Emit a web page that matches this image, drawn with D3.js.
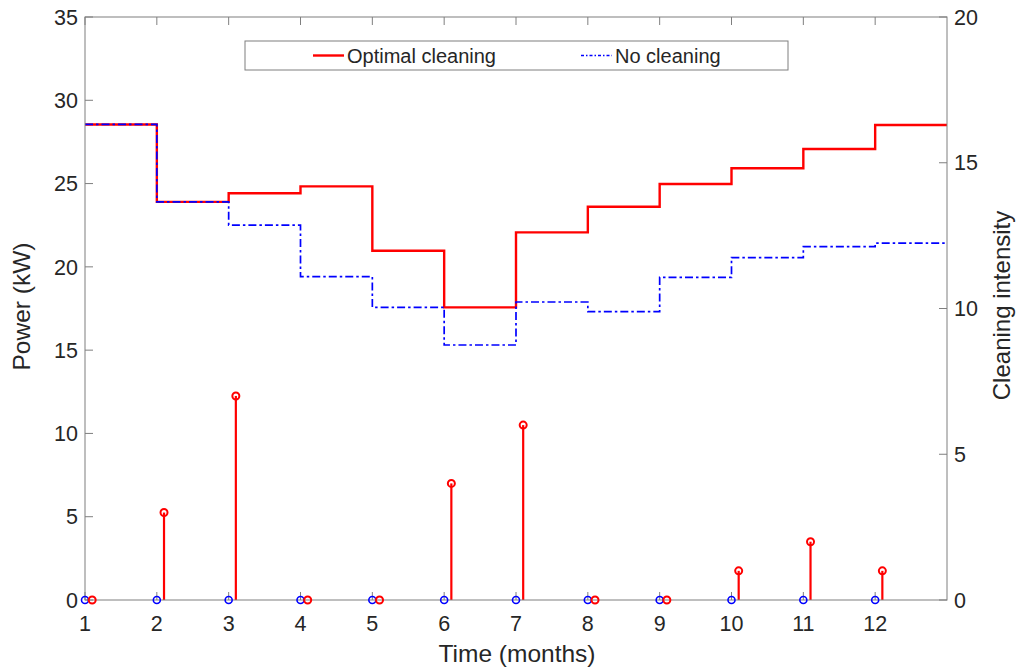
<!DOCTYPE html>
<html>
<head>
<meta charset="utf-8">
<script src="https://cdn.jsdelivr.net/npm/d3@7"></script>
<style>
  body { margin: 0; background: #fff; }
  text { font-family: "Liberation Sans", Arial, Helvetica, sans-serif; fill: #262626; }
</style>
</head>
<body>
<svg id="chart" width="1017" height="672"></svg>
<script>
// ---- data ----
const months = [1, 2, 3, 4, 5, 6, 7, 8, 9, 10, 11, 12];
const optimalPower = [28.55, 23.9, 24.42, 24.83, 20.97, 17.57, 22.07, 23.61, 24.97, 25.92, 27.08, 28.52];
const noCleaningPower = [28.55, 23.9, 22.51, 19.41, 17.57, 15.31, 17.89, 17.31, 19.37, 20.55, 21.21, 21.43];
const optimalIntensity = [0, 3, 7, 0, 0, 4, 6, 0, 0, 1, 2, 1];
const noCleaningIntensity = [0, 0, 0, 0, 0, 0, 0, 0, 0, 0, 0, 0];
const xTicks = [1, 2, 3, 4, 5, 6, 7, 8, 9, 10, 11, 12];
const leftTicks = [0, 5, 10, 15, 20, 25, 30, 35];
const rightTicks = [0, 5, 10, 15, 20];
const seriesNames = ["Optimal cleaning", "No cleaning"];

// ---- layout ----
const svg = d3.select("#chart");
const L = 85, T = 17, R = 947, B = 600;
const x = d3.scaleLinear().domain([1, 13]).range([L, R]);
const yL = d3.scaleLinear().domain([0, 35]).range([B, T]);
const yR = d3.scaleLinear().domain([0, 20]).range([B, T]);
const axisCol = "#7f7f7f";
const tickLen = 8;

// stairs
const stairData = (vals) => months.map((m, i) => [m, vals[i]]).concat([[13, vals[vals.length - 1]]]);
const stair = d3.line().x(d => x(d[0])).y(d => yL(d[1])).curve(d3.curveStepAfter);

svg.append("path").attr("d", stair(stairData(optimalPower)))
  .attr("fill", "none").attr("stroke", "#ff0000").attr("stroke-width", 2.4);
svg.append("path").attr("d", stair(stairData(noCleaningPower)))
  .attr("fill", "none").attr("stroke", "#0000ff").attr("stroke-width", 1.7)
  .attr("stroke-dasharray", "8,3,2.5,3");

// stems (right axis)
const off = 0.1;
svg.selectAll(".stemR").data(months).enter().append("line")
  .attr("x1", (m) => x(m + off)).attr("x2", (m) => x(m + off))
  .attr("y1", yR(0)).attr("y2", (m, i) => yR(optimalIntensity[i]))
  .attr("stroke", "#ff0000").attr("stroke-width", 2.2);
svg.selectAll(".stemB").data(months).enter().append("line")
  .attr("x1", (m) => x(m)).attr("x2", (m) => x(m))
  .attr("y1", yR(0)).attr("y2", (m, i) => yR(noCleaningIntensity[i]))
  .attr("stroke", "#0000ff").attr("stroke-width", 1.5);

// axes box
svg.append("rect").attr("x", L).attr("y", T).attr("width", R - L).attr("height", B - T)
  .attr("fill", "none").attr("stroke", axisCol).attr("stroke-width", 1);

// x ticks (bottom & top)
xTicks.forEach(t => {
  svg.append("line").attr("x1", x(t)).attr("x2", x(t)).attr("y1", B).attr("y2", B - tickLen)
    .attr("stroke", axisCol);
  svg.append("line").attr("x1", x(t)).attr("x2", x(t)).attr("y1", T).attr("y2", T + tickLen)
    .attr("stroke", axisCol);
  svg.append("text").attr("x", x(t)).attr("y", 630.5).attr("text-anchor", "middle")
    .attr("font-size", 21.5).text(t);
});
leftTicks.forEach(t => {
  svg.append("line").attr("x1", L).attr("x2", L + tickLen).attr("y1", yL(t)).attr("y2", yL(t))
    .attr("stroke", axisCol);
  svg.append("text").attr("x", 78).attr("y", yL(t) + 7.7).attr("text-anchor", "end")
    .attr("font-size", 21.5).text(t);
});
rightTicks.forEach(t => {
  svg.append("line").attr("x1", R).attr("x2", R - tickLen).attr("y1", yR(t)).attr("y2", yR(t))
    .attr("stroke", axisCol);
  svg.append("text").attr("x", 954).attr("y", yR(t) + 7.7).attr("text-anchor", "start")
    .attr("font-size", 21.5).text(t);
});

// circles
svg.selectAll(".cB").data(months).enter().append("circle")
  .attr("cx", m => x(m)).attr("cy", (m, i) => yR(noCleaningIntensity[i])).attr("r", 3.5)
  .attr("fill", "none").attr("stroke", "#0000ff").attr("stroke-width", 1.6);
svg.selectAll(".cR").data(months).enter().append("circle")
  .attr("cx", m => x(m + off)).attr("cy", (m, i) => yR(optimalIntensity[i])).attr("r", 3.5)
  .attr("fill", "none").attr("stroke", "#ff0000").attr("stroke-width", 2);

// axis labels
svg.append("text").attr("x", (L + R) / 2 + 1).attr("y", 662).attr("text-anchor", "middle")
  .attr("font-size", 24.5).text("Time (months)");
svg.append("text").attr("transform", `translate(30,${(T + B) / 2 - 2}) rotate(-90)`)
  .attr("text-anchor", "middle").attr("font-size", 24.5).text("Power (kW)");
svg.append("text").attr("transform", `translate(1010,${(T + B) / 2 - 3}) rotate(-90)`)
  .attr("text-anchor", "middle").attr("font-size", 24).text("Cleaning intensity");

// legend
const lg = svg.append("g");
lg.append("rect").attr("x", 245).attr("y", 41).attr("width", 543).attr("height", 29)
  .attr("fill", "#fff").attr("stroke", axisCol).attr("stroke-width", 1);
lg.append("line").attr("x1", 313).attr("x2", 344).attr("y1", 55.5).attr("y2", 55.5)
  .attr("stroke", "#ff0000").attr("stroke-width", 2.4);
lg.append("text").attr("x", 347).attr("y", 62.5).attr("font-size", 20).text(seriesNames[0]);
lg.append("line").attr("x1", 581).attr("x2", 612).attr("y1", 55.5).attr("y2", 55.5)
  .attr("stroke", "#0000ff").attr("stroke-width", 1.5).attr("stroke-dasharray", "3,2,1.5,2");
lg.append("text").attr("x", 615).attr("y", 62.5).attr("font-size", 20).text(seriesNames[1]);
</script>
</body>
</html>
